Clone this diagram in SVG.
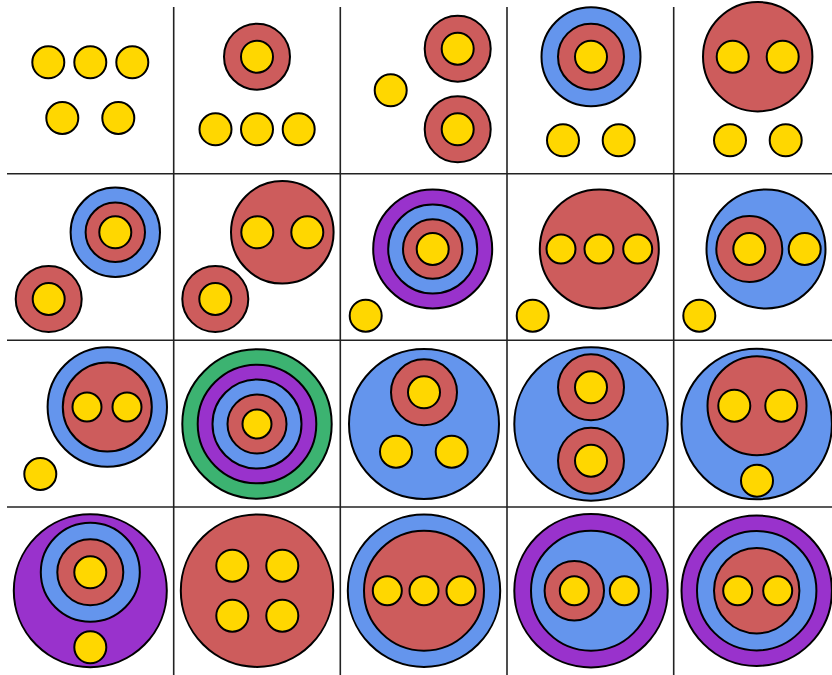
<svg xmlns="http://www.w3.org/2000/svg" width="832" height="675" viewBox="0 0 832 675">
<style>
circle{stroke:#000;stroke-width:2}
.y{fill:#FFD700}.r{fill:#CD5C5C}.b{fill:#6495ED}.p{fill:#9932CC}.g{fill:#3CB371}
.grid line{stroke:#222;stroke-width:1.6}
</style>
<rect width="832" height="675" fill="#fff"/>
<g id="grid" class="grid">
<line x1="173.7" y1="7" x2="173.7" y2="675"/>
<line x1="340.3" y1="7" x2="340.3" y2="675"/>
<line x1="507" y1="7" x2="507" y2="675"/>
<line x1="673.7" y1="7" x2="673.7" y2="675"/>
<line x1="7" y1="173.7" x2="832" y2="173.7"/>
<line x1="7" y1="340.3" x2="832" y2="340.3"/>
<line x1="7" y1="507" x2="832" y2="507"/>
</g>
<g id="cell-1-1">
<circle class="y" cx="48.3" cy="62.3" r="16"/>
<circle class="y" cx="90.3" cy="62.3" r="16"/>
<circle class="y" cx="132.3" cy="62.3" r="16"/>
<circle class="y" cx="62.3" cy="118" r="16"/>
<circle class="y" cx="118.3" cy="118" r="16"/>
</g>
<g id="cell-1-2">
<circle class="r" cx="257" cy="56.7" r="33"/>
<circle class="y" cx="257" cy="56.7" r="16"/>
<circle class="y" cx="215.5" cy="129.3" r="16"/>
<circle class="y" cx="257" cy="129.3" r="16"/>
<circle class="y" cx="298.7" cy="129.3" r="16"/>
</g>
<g id="cell-1-3">
<circle class="y" cx="390.7" cy="90.3" r="16"/>
<circle class="r" cx="457.7" cy="48.7" r="33"/>
<circle class="y" cx="457.7" cy="48.7" r="16"/>
<circle class="r" cx="457.7" cy="129.3" r="33"/>
<circle class="y" cx="457.7" cy="129.3" r="16"/>
</g>
<g id="cell-1-4">
<circle class="b" cx="591" cy="56.7" r="49.5"/>
<circle class="r" cx="591" cy="56.7" r="33"/>
<circle class="y" cx="591" cy="56.7" r="16"/>
<circle class="y" cx="563" cy="140.3" r="16"/>
<circle class="y" cx="618.7" cy="140.3" r="16"/>
</g>
<g id="cell-1-5">
<circle class="r" cx="757.7" cy="56.7" r="54.7"/>
<circle class="y" cx="732.7" cy="56.7" r="16"/>
<circle class="y" cx="782.7" cy="56.7" r="16"/>
<circle class="y" cx="730" cy="140.3" r="16"/>
<circle class="y" cx="785.7" cy="140.3" r="16"/>
</g>
<g id="cell-2-1">
<circle class="b" cx="115.3" cy="232.3" r="44.7"/>
<circle class="r" cx="115.3" cy="232.3" r="29.7"/>
<circle class="y" cx="115.3" cy="232.3" r="16"/>
<circle class="r" cx="48.7" cy="299" r="33"/>
<circle class="y" cx="48.7" cy="299" r="16"/>
</g>
<g id="cell-2-2">
<circle class="r" cx="282.3" cy="232.3" r="51.3"/>
<circle class="y" cx="257.3" cy="232.3" r="16"/>
<circle class="y" cx="307.3" cy="232.3" r="16"/>
<circle class="r" cx="215.3" cy="299" r="33"/>
<circle class="y" cx="215.3" cy="299" r="16"/>
</g>
<g id="cell-2-3">
<circle class="p" cx="432.7" cy="249" r="59.5"/>
<circle class="b" cx="432.7" cy="249" r="44.5"/>
<circle class="r" cx="432.7" cy="249" r="29.7"/>
<circle class="y" cx="432.7" cy="249" r="16"/>
<circle class="y" cx="365.7" cy="315.7" r="16"/>
</g>
<g id="cell-2-4">
<circle class="r" cx="599.3" cy="249" r="59.5"/>
<circle class="y" cx="561" cy="249" r="14.5"/>
<circle class="y" cx="599" cy="249" r="14.5"/>
<circle class="y" cx="637.7" cy="249" r="14.5"/>
<circle class="y" cx="532.7" cy="315.7" r="16"/>
</g>
<g id="cell-2-5">
<circle class="b" cx="766" cy="249" r="59.5"/>
<circle class="r" cx="749.3" cy="249" r="33"/>
<circle class="y" cx="749.3" cy="249" r="16"/>
<circle class="y" cx="804.7" cy="249" r="16"/>
<circle class="y" cx="699.3" cy="315.7" r="16"/>
</g>
<g id="cell-3-1">
<circle class="b" cx="107.3" cy="407" r="59.7"/>
<circle class="r" cx="107.3" cy="407" r="44.5"/>
<circle class="y" cx="87" cy="407" r="14.5"/>
<circle class="y" cx="127" cy="407" r="14.5"/>
<circle class="y" cx="40.3" cy="474" r="16"/>
</g>
<g id="cell-3-2">
<circle class="g" cx="257" cy="424" r="74.7"/>
<circle class="p" cx="257" cy="424" r="59.3"/>
<circle class="b" cx="257" cy="424" r="44.5"/>
<circle class="r" cx="257" cy="424" r="29.5"/>
<circle class="y" cx="257" cy="424" r="14.5"/>
</g>
<g id="cell-3-3">
<circle class="b" cx="424" cy="424" r="75"/>
<circle class="r" cx="424" cy="392.3" r="33"/>
<circle class="y" cx="424" cy="392.3" r="16"/>
<circle class="y" cx="396" cy="451.7" r="16"/>
<circle class="y" cx="451.7" cy="451.7" r="16"/>
</g>
<g id="cell-3-4">
<circle class="b" cx="591" cy="424" r="76.7"/>
<circle class="r" cx="591" cy="387.3" r="33"/>
<circle class="y" cx="591" cy="387.3" r="16"/>
<circle class="r" cx="591" cy="460.7" r="33"/>
<circle class="y" cx="591" cy="460.7" r="16"/>
</g>
<g id="cell-3-5">
<circle class="b" cx="756.7" cy="424" r="75.2"/>
<circle class="r" cx="757" cy="405.7" r="49.5"/>
<circle class="y" cx="734.3" cy="405.7" r="16"/>
<circle class="y" cx="781.3" cy="405.7" r="16"/>
<circle class="y" cx="757" cy="480.7" r="16"/>
</g>
<g id="cell-4-1">
<circle class="p" cx="90.3" cy="590.7" r="76.5"/>
<circle class="b" cx="90.3" cy="572.3" r="49.5"/>
<circle class="r" cx="90.3" cy="572.3" r="33"/>
<circle class="y" cx="90.3" cy="572.3" r="16"/>
<circle class="y" cx="90.3" cy="647.3" r="16"/>
</g>
<g id="cell-4-2">
<circle class="r" cx="257" cy="590.7" r="76.2"/>
<circle class="y" cx="232.3" cy="565.7" r="16"/>
<circle class="y" cx="282.3" cy="565.7" r="16"/>
<circle class="y" cx="232.3" cy="615.7" r="16"/>
<circle class="y" cx="282.3" cy="615.7" r="16"/>
</g>
<g id="cell-4-3">
<circle class="b" cx="424" cy="590.7" r="76.2"/>
<circle class="r" cx="424" cy="590.7" r="60"/>
<circle class="y" cx="387.3" cy="590.7" r="14.5"/>
<circle class="y" cx="424" cy="590.7" r="14.5"/>
<circle class="y" cx="461" cy="590.7" r="14.5"/>
</g>
<g id="cell-4-4">
<circle class="p" cx="591" cy="590.7" r="76.7"/>
<circle class="b" cx="591" cy="590.7" r="60"/>
<circle class="r" cx="574.3" cy="590.7" r="29.7"/>
<circle class="y" cx="574.3" cy="590.7" r="14.5"/>
<circle class="y" cx="624.3" cy="590.7" r="14.5"/>
</g>
<g id="cell-4-5">
<circle class="p" cx="756.7" cy="590.7" r="75.2"/>
<circle class="b" cx="756.7" cy="590.7" r="59.7"/>
<circle class="r" cx="756.7" cy="590.7" r="42.7"/>
<circle class="y" cx="737.7" cy="590.7" r="14.5"/>
<circle class="y" cx="777.7" cy="590.7" r="14.5"/>
</g>
</svg>
